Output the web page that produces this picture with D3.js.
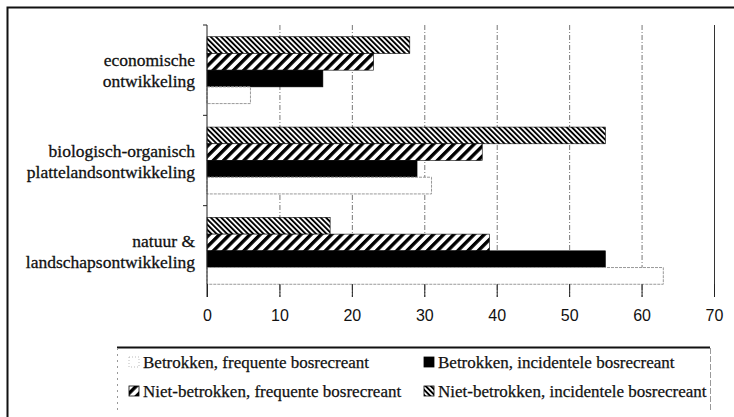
<!DOCTYPE html>
<html>
<head>
<meta charset="utf-8">
<script src="https://cdn.jsdelivr.net/npm/d3@7"></script>
<style>
  body { margin: 0; background: #fff; }
  svg { display: block; }
</style>
</head>
<body>
<svg id="chart" width="734" height="417"></svg>
<script>
// categories, top to bottom (label lines)
const categories = ["economische ontwikkeling", "biologisch-organisch plattelandsontwikkeling", "natuur & landschapsontwikkeling"];
const categoryLines = [["economische", "ontwikkeling"], ["biologisch-organisch", "plattelandsontwikkeling"], ["natuur &", "landschapsontwikkeling"]];

// series, in bar order inside a group (top to bottom)
const seriesNames = ["Niet-betrokken, incidentele bosrecreant", "Niet-betrokken, frequente bosrecreant", "Betrokken, incidentele bosrecreant", "Betrokken, frequente bosrecreant"];
const nietIncidenteel = [28, 55, 17];
const nietFrequent = [23, 38, 39];
const betrokkenIncidenteel = [16, 29, 55];
const betrokkenFrequent = [6, 31, 63];
const seriesValues = [nietIncidenteel, nietFrequent, betrokkenIncidenteel, betrokkenFrequent];

// legend order (row by row)
const legendOrder = ["Betrokken, frequente bosrecreant", "Betrokken, incidentele bosrecreant", "Niet-betrokken, frequente bosrecreant", "Niet-betrokken, incidentele bosrecreant"];

const xTicks = [0, 10, 20, 30, 40, 50, 60, 70];

const svg = d3.select("#chart");
const serif = "Liberation Serif, Times New Roman, serif";

// hatch patterns
const defs = svg.append("defs");
function hatch(id, period, stroke, angle) {
    const p = defs.append("pattern")
        .attr("id", id)
        .attr("patternUnits", "userSpaceOnUse")
        .attr("width", period)
        .attr("height", 20)
        .attr("patternTransform", "rotate(" + angle + ")");
    p.append("rect").attr("width", period).attr("height", 20).attr("fill", "#fff");
    p.append("rect").attr("width", stroke).attr("height", 20).attr("fill", "#000");
}
hatch("dense", 3.7, 1.9, -45);
hatch("wide", 7.2, 3.4, 45);

const fills = {
    "Niet-betrokken, incidentele bosrecreant": "url(#dense)",
    "Niet-betrokken, frequente bosrecreant": "url(#wide)",
    "Betrokken, incidentele bosrecreant": "#000",
    "Betrokken, frequente bosrecreant": "#fff"
};

const x = d3.scaleLinear().domain([0, 70]).range([207, 714]);
const y = d3.scaleBand().domain(categories).range([25, 296]).paddingInner(0.26).paddingOuter(0.13);
const ySub = d3.scaleBand().domain(seriesNames).range([0, y.bandwidth()]);

// outer frame
svg.append("path")
    .attr("d", "M7.5,417 V7.5 H734")
    .attr("fill", "none")
    .attr("stroke", "#111")
    .attr("stroke-width", 2);

// gridlines
svg.append("g")
    .selectAll("line")
    .data(xTicks.filter(t => t > 0))
    .join("line")
    .attr("x1", d => x(d) + 0.5)
    .attr("x2", d => x(d) + 0.5)
    .attr("y1", 25)
    .attr("y2", 297)
    .attr("stroke", d => d === 70 ? "#333" : "#777")
    .attr("stroke-width", 1)
    .attr("stroke-dasharray", d => d === 70 ? null : "5,2,1,2");

// bars
const groups = svg.append("g")
    .selectAll("g.group")
    .data(categories)
    .join("g")
    .attr("class", "group")
    .attr("transform", d => "translate(0," + y(d) + ")");

groups.selectAll("rect")
    .data((c, i) => seriesNames.map((s, j) => ({ series: s, value: seriesValues[j][i] })))
    .join("rect")
    .attr("x", x(0))
    .attr("y", d => ySub(d.series))
    .attr("width", d => x(d.value) - x(0))
    .attr("height", ySub.bandwidth())
    .attr("fill", d => fills[d.series])
    .attr("stroke", d => d.series === "Betrokken, frequente bosrecreant" ? "#999" : "#000")
    .attr("stroke-width", d => d.series === "Betrokken, frequente bosrecreant" ? 1 : 0.6)
    .attr("stroke-dasharray", d => d.series === "Betrokken, frequente bosrecreant" ? "3,1" : null);

// y axis line with category boundary ticks
svg.append("line")
    .attr("x1", x(0)).attr("x2", x(0))
    .attr("y1", 25).attr("y2", 297)
    .attr("stroke", "#222");

const step = y.step();
svg.append("g")
    .selectAll("line")
    .data(categories)
    .join("line")
    .attr("x1", x(0) - 4).attr("x2", x(0))
    .attr("y1", d => y(d) - step * 0.13)
    .attr("y2", d => y(d) - step * 0.13)
    .attr("stroke", "#222");

// category labels
const labels = svg.append("g");

categories.forEach((c, i) => {
    const cy = y(c) + y.bandwidth() / 2;
    categoryLines[i].forEach((line, k) => {
        labels.append("text")
            .attr("x", 195)
            .attr("y", cy + (k === 0 ? -10 : 11))
            .attr("dy", "0.35em")
            .attr("text-anchor", "end")
            .style("font-family", serif)
            .style("font-size", "17.5px")
            .attr("fill", "#111")
            .attr("stroke", "#111")
            .attr("stroke-width", 0.3)
            .text(line);
    });
});

// x axis
const xAxis = svg.append("g")
    .attr("transform", "translate(0,297)")
    .call(d3.axisBottom(x).tickValues(xTicks).tickSize(-13).tickPadding(13).tickFormat(d3.format("d")));
xAxis.select(".domain").remove();
xAxis.selectAll(".tick line").attr("stroke", "#222");
xAxis.selectAll("text")
    .style("font-family", "Liberation Sans Narrow, Liberation Sans, Arial, sans-serif")
    .style("font-size", "16px")
    .attr("fill", "#111");

// legend box
const legend = svg.append("g");
legend.append("line")
    .attr("x1", 117).attr("x2", 710)
    .attr("y1", 347.5).attr("y2", 347.5)
    .attr("stroke", "#111").attr("stroke-width", 2);
legend.append("line")
    .attr("x1", 117.5).attr("x2", 117.5)
    .attr("y1", 348).attr("y2", 412)
    .attr("stroke", "#999").attr("stroke-dasharray", "2,4");
legend.append("line")
    .attr("x1", 710.5).attr("x2", 710.5)
    .attr("y1", 348).attr("y2", 412)
    .attr("stroke", "#999").attr("stroke-dasharray", "6,2");

const legendItems = legend.selectAll("g.item")
    .data(legendOrder)
    .join("g")
    .attr("class", "item")
    .attr("transform", (d, i) => "translate(" + (i % 2 === 0 ? 129 : 424) + "," + (i < 2 ? 362 : 391) + ")");

legendItems.append("rect")
    .attr("x", 0)
    .attr("y", -5)
    .attr("width", 10)
    .attr("height", 10)
    .attr("fill", d => fills[d])
    .attr("stroke", d => d === "Betrokken, frequente bosrecreant" ? "#aaa" : "#000")
    .attr("stroke-dasharray", d => d === "Betrokken, frequente bosrecreant" ? "1,2" : null)
    .attr("stroke-width", 0.8);

legendItems.append("text")
    .attr("x", 14)
    .attr("y", 0)
    .attr("dy", "0.35em")
    .style("font-family", serif)
    .style("font-size", "17px")
    .attr("fill", "#111")
    .attr("stroke", "#111")
    .attr("stroke-width", 0.25)
    .text(d => d);
</script>
</body>
</html>
